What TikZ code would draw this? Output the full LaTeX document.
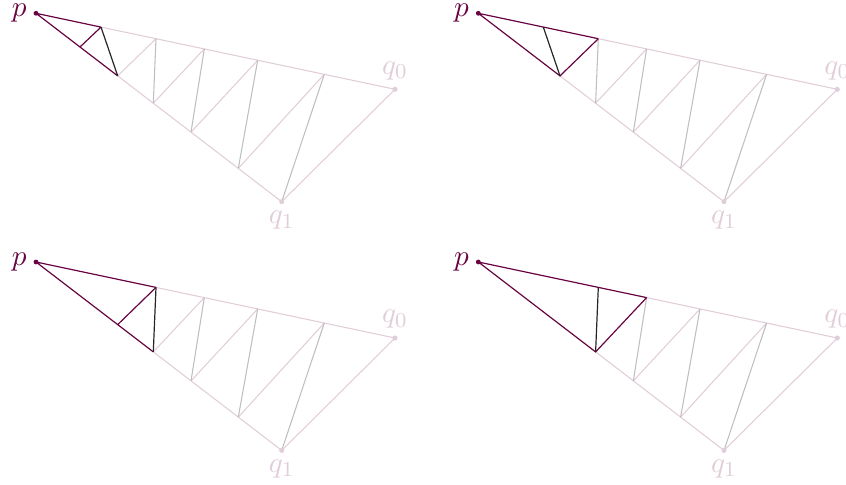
\documentclass[tikz,border=0pt]{standalone}
\definecolor{mag}{RGB}{104,4,66}
\colorlet{pale}{mag!20}
\tikzset{
  dk/.style={draw=mag, line width=0.45pt},
  pl/.style={draw=pale, line width=0.4pt},
  gr/.style={draw=black!25, line width=0.4pt},
  bk/.style={draw=black!85, line width=0.45pt},
  lab/.style={font=\fontsize{11}{13}\selectfont},
}
\newcommand\mkpanel[3]{%
  \begin{scope}[shift={(#2,#3)}]
    \coordinate (#1p)  at (0,0);
    \coordinate (#1A1) at (65,13.8);
    \coordinate (#1A2) at (120,25.4);
    \coordinate (#1A3) at (168.3,35.6);
    \coordinate (#1A4) at (221.7,46.9);
    \coordinate (#1A5) at (288.3,61.0);
    \coordinate (#1q0) at (359,76);
    \coordinate (#1C)  at (44,33.7);
    \coordinate (#1B1) at (81.7,62.6);
    \coordinate (#1B2) at (117.3,89.9);
    \coordinate (#1B3) at (155,118.9);
    \coordinate (#1B4) at (202.3,155.1);
    \coordinate (#1q1) at (245.7,188.4);
  \end{scope}}
\newcommand\mklabels[1]{%
  \fill[pale] (#1q0) circle (0.95pt);
  \fill[pale] (#1q1) circle (0.95pt);
  \fill[mag] (#1p) circle (0.9pt);
  \node[lab, text=mag, left, inner ysep=0.5pt] (#1lp) at (#1p) {$p$};
  \node[lab, text=pale, above] (#1lq0) at (#1q0) {$q_0$};
  \node[lab, text=pale, below] (#1lq1) at (#1q1) {$q_1$};}
\begin{document}
\begin{tikzpicture}[x=0.375pt,y=-0.375pt]
\path[use as bounding box] (0,0) rectangle (846,484);
\mkpanel{a}{36}{13.3}
\mkpanel{b}{478.3}{13.3}
\mkpanel{c}{36}{262}
\mkpanel{d}{478.3}{262}

% panel 1
\draw[pl] (aA1) -- (aq0) -- (aq1) -- (aB1);
\draw[pl] (aB1) -- (aA2) (aB2) -- (aA3) (aB3) -- (aA4) (aB4) -- (aA5);
\draw[gr] (aA2) -- (aB2) (aA3) -- (aB3) (aA4) -- (aB4) (aA5) -- (aq1);
\draw[dk] (aA1) -- (ap) -- (aB1) (aC) -- (aA1);
\draw[bk] (aA1) -- (aB1);
\mklabels{a}

% panel 2
\draw[pl] (bA2) -- (bq0) -- (bq1) -- (bB1);
\draw[pl] (bB2) -- (bA3) (bB3) -- (bA4) (bB4) -- (bA5);
\draw[gr] (bA2) -- (bB2) (bA3) -- (bB3) (bA4) -- (bB4) (bA5) -- (bq1);
\draw[dk] (bA2) -- (bp) -- (bB1) -- (bA2);
\draw[bk] (bA1) -- (bB1);
\mklabels{b}

% panel 3
\draw[pl] (cA2) -- (cq0) -- (cq1) -- (cB2);
\draw[pl] (cB2) -- (cA3) (cB3) -- (cA4) (cB4) -- (cA5);
\draw[gr] (cA3) -- (cB3) (cA4) -- (cB4) (cA5) -- (cq1);
\draw[dk] (cA2) -- (cp) -- (cB2) (cB1) -- (cA2);
\draw[bk] (cA2) -- (cB2);
\mklabels{c}

% panel 4
\draw[pl] (dA3) -- (dq0) -- (dq1) -- (dB2);
\draw[pl] (dB3) -- (dA4) (dB4) -- (dA5);
\draw[gr] (dA3) -- (dB3) (dA4) -- (dB4) (dA5) -- (dq1);
\draw[dk] (dA3) -- (dp) -- (dB2) -- (dA3);
\draw[bk] (dA2) -- (dB2);
\mklabels{d}
\end{tikzpicture}
\end{document}
